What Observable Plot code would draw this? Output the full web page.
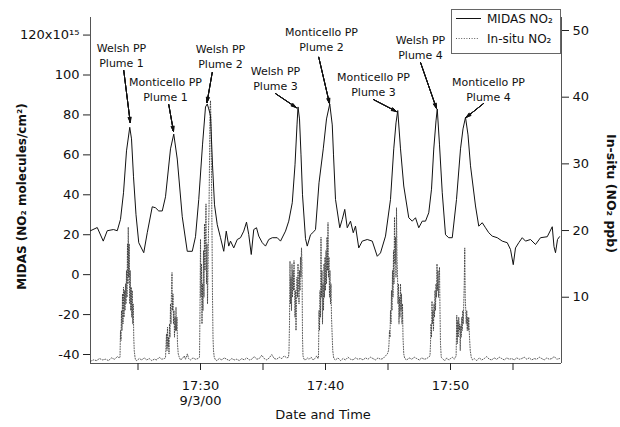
<!DOCTYPE html>
<html><head><meta charset="utf-8">
<script src="https://cdn.jsdelivr.net/npm/d3@7"></script>
<script src="https://cdn.jsdelivr.net/npm/@observablehq/plot@0.6"></script>
<style>
body{margin:0;background:#fff;}
#wrap{position:relative;width:620px;height:427px;font-family:"DejaVu Sans",sans-serif;}
#legend{position:absolute;left:451px;top:9px;width:108px;height:43px;border:1px solid #666;background:#fff;}
</style></head>
<body><div id="wrap"></div>
<script>
// MIDAS NO2 (10^15 molecules/cm^2), time in minutes after 17:00 on 9/3/00
const midasMin = [21.20,21.74,22.22,22.54,23.04,23.34,23.60,23.84,24.08,24.34,24.48,24.64,24.84,25.06,25.46,25.74,26.14,26.40,26.66,26.94,27.20,27.60,27.86,28.14,28.54,28.94,29.34,29.60,29.86,30.16,30.40,30.54,30.66,30.80,30.96,31.12,31.34,31.60,31.86,32.06,32.26,32.40,32.66,32.94,33.20,33.46,33.68,33.86,34.06,34.26,34.48,34.66,34.94,35.20,35.46,35.74,36.14,36.40,36.80,37.06,37.34,37.56,37.72,37.80,37.92,38.04,38.16,38.40,38.54,38.80,39.06,39.20,39.48,39.82,40.08,40.34,40.54,40.64,40.80,41.14,41.34,41.54,41.74,42.00,42.22,42.40,42.66,42.94,43.34,43.74,44.14,44.40,44.80,45.20,45.46,45.64,45.78,46.00,46.26,46.66,46.94,47.20,47.46,47.74,48.00,48.26,48.48,48.66,48.84,48.94,49.12,49.34,49.60,49.86,50.14,50.48,50.80,51.00,51.20,51.40,51.60,52.00,52.26,52.54,52.80,53.06,53.34,53.74,54.14,54.54,54.80,55.02,55.20,55.46,55.74,56.00,56.40,56.80,57.20,57.74,58.14,58.28,58.40,58.56,58.72];
const midasVal = [22,23.6,16.8,22,22.6,22,27.7,41,62,73.8,68,49,30,16,11,21,34,33.5,31.9,31.9,39,63,70.4,57.9,29,11.7,11.7,19,37.7,65,84,85.5,83,79.7,55,35,25,18.5,11.7,21.8,14.3,16.8,13.4,17.6,18.5,21.8,26.3,20.1,10.1,22.6,23.5,19.3,16,14.3,17.6,18.5,18.5,16.8,21.8,26.8,36,55,75,84,78,60,40,18,14.3,20,21.5,22.6,46,63,78,85.5,75,60,37.7,23.5,27.7,32.7,23.5,26.8,21,24.3,13.4,16.8,17.6,16.8,9.2,10.9,19.3,37.7,63,76,82.2,63,44.4,28.5,26.8,28.5,23.5,26.8,26.8,31,42.8,62.9,77,83,65,41,20,18.5,18.5,37.7,63,73,78.8,70,54.5,34.4,24.3,26,23.5,21,19.3,18.5,16.8,16,12.6,5,13.4,16,18.5,16.8,17.6,15.1,18.5,19,24,14,11,17.6,19];

// In-situ NO2 (ppb)
const insituMin = [21.20,21.44,21.68,21.92,22.16,22.40,22.64,22.88,23.12,23.36,23.48,
23.56,23.60,23.64,23.68,23.72,23.76,23.80,23.84,23.88,23.92,23.96,24.00,24.04,24.08,24.12,24.16,24.20,24.22,24.26,24.30,24.34,24.38,24.42,24.46,24.50,24.54,24.58,24.62,24.66,24.70,24.76,24.80,
24.90,25.10,25.30,25.50,25.70,25.90,26.10,26.30,26.50,26.70,26.90,27.10,27.20,
27.28,27.32,27.36,27.40,27.44,27.48,27.52,27.56,27.60,27.64,27.68,27.72,27.76,27.80,27.84,27.88,27.92,27.96,28.00,28.04,28.08,28.12,28.16,28.22,28.30,28.40,
28.55,28.70,28.80,28.95,29.05,29.20,29.40,29.60,29.80,
29.92,29.96,30.00,30.04,30.08,30.12,30.16,30.20,30.24,30.28,30.32,30.36,30.40,30.44,30.48,30.52,30.56,30.60,30.64,30.68,30.72,30.76,30.80,30.84,30.88,30.92,30.96,31.00,31.04,31.10,31.20,
31.30,31.50,31.70,31.90,32.10,32.30,32.50,32.70,32.90,33.10,33.30,33.50,33.70,33.90,34.10,34.30,34.50,34.70,34.90,35.10,35.30,35.50,35.70,35.90,36.10,36.30,36.50,36.70,36.90,37.04,
37.08,37.12,37.16,37.20,37.24,37.28,37.32,37.36,37.40,37.44,37.48,37.52,37.56,37.60,37.64,37.68,37.72,37.76,37.80,37.84,37.88,37.92,37.96,38.00,38.04,38.08,38.12,38.16,38.20,38.28,
38.40,38.55,38.70,38.85,39.00,39.15,39.30,39.40,
39.44,39.48,39.52,39.56,39.60,39.64,39.68,39.72,39.76,39.80,39.84,39.88,39.92,39.96,40.00,40.04,40.08,40.12,40.16,40.20,40.24,40.28,40.32,40.36,40.40,40.44,40.48,40.52,40.58,40.66,
40.80,41.00,41.20,41.40,41.60,41.80,42.00,42.20,42.40,42.60,42.80,43.00,43.20,43.40,43.60,43.80,44.00,44.20,44.40,44.60,44.80,44.95,
45.04,45.08,45.12,45.16,45.20,45.24,45.28,45.32,45.36,45.40,45.44,45.48,45.52,45.56,45.60,45.64,45.68,45.72,45.76,45.80,45.84,45.88,45.92,45.96,46.00,46.04,46.08,46.12,46.16,46.20,46.26,46.34,
46.50,46.70,46.90,47.10,47.30,47.50,47.70,47.90,48.10,48.30,
48.36,48.40,48.44,48.48,48.52,48.56,48.60,48.64,48.68,48.72,48.76,48.80,48.84,48.88,48.92,48.96,49.00,49.04,49.08,49.12,49.16,49.20,49.26,
49.40,49.55,49.70,49.85,50.00,50.15,50.30,50.45,
50.50,50.54,50.58,50.62,50.66,50.70,50.74,50.78,50.82,50.86,50.90,50.94,50.98,51.02,51.06,51.10,51.14,51.18,51.22,51.26,51.30,51.34,51.38,51.42,51.46,51.52,51.58,51.66,51.76,
51.90,52.10,52.30,52.50,52.70,52.90,53.10,53.30,53.50,53.70,53.90,54.10,54.30,54.50,54.70,54.90,55.10,55.30,55.50,55.70,55.90,56.10,56.30,56.50,56.70,56.90,57.10,57.30,57.50,57.70,57.90,58.10,58.30,58.50,58.72];
const insituPpb = [0.4,0.6,0.5,0.8,0.6,0.7,0.5,0.9,0.7,1.1,0.9,
1.0,5,3.5,8,5,10.5,6,11.5,7,11,8,12,9,14,10,18,12,20.5,13,18,9,14,8,11.5,7,11,6,9,4,2,1.0,0.6,
0.5,0.8,0.6,0.9,0.6,0.8,0.5,0.7,0.6,1.0,0.7,0.8,0.9,
4.5,2,5.5,2.5,4,1.5,6,4,9,6,11,13.7,8,10.5,6,8,4,7,5,8.5,5,7,3,1.5,1.0,0.6,
0.8,1.2,0.7,1.5,0.8,0.6,0.9,0.7,0.8,
1.0,8,18.7,10,15,6,12,8,17,10,21,14,19,24,12,18,9,14,20,23,30,38,39.5,36,28,20,10,4,2,1.0,0.6,
0.5,0.8,0.6,0.9,0.7,0.5,0.8,0.6,0.7,0.5,0.8,0.6,0.9,0.6,0.7,1.1,0.7,0.8,1.3,0.8,0.6,0.9,1.4,0.8,0.7,1.0,0.8,1.2,0.9,1.0,
2,6,15.4,9,13,8,15,10,14,11,15.5,12,7,11,5,9,13,10,15,12,9,14,11,16,13,17.4,15,4,1.2,0.7,
0.6,0.9,0.7,1.0,0.6,0.8,1.2,0.8,
1.0,8,5,11,7,19,10,14,6,12,8,15,10,16,11,17,12,19,14,21.2,13,16,10,14,9,12,7,5,2,0.8,
0.6,0.9,0.5,0.8,0.6,1.0,0.7,0.6,0.9,0.7,0.8,0.6,0.9,0.7,1.0,0.8,0.6,0.9,0.7,0.8,1.2,1.5,
2,3,5,4,8,6,11,8,14,10,17,12,22,15,19,13,23.4,16,13.5,9,12,6,10,7,12,8,10.5,6,9,4,1.5,0.8,
0.6,0.9,0.7,1.0,0.8,0.6,0.9,0.7,0.8,1.1,
1.2,3,6,4,9.4,6,8,5,9,7,11,8,12,10,15,11,14,10,13,14.5,8,3,1.0,
0.7,0.5,0.9,0.6,0.8,1.0,0.7,1.2,
7.3,3,6.5,4,7,5,6,2,5.7,4,7,5,8,6,9,12,17.4,10,8,6,8,5,7,5,7,4,2,1.0,0.6,
0.8,0.5,0.9,0.6,0.8,1.1,0.7,0.6,0.9,0.7,1.0,0.8,0.6,0.9,0.7,0.8,0.6,0.9,0.7,0.8,1.0,0.7,0.9,0.6,0.8,0.7,1.0,0.8,0.6,0.9,0.7,0.8,1.1,0.7,0.8];

// Axis ticks
const xTicks = [25,30,35,40,45,50,55];
const xTickLabels = ["","17:30\n9/3/00","","17:40","","17:50",""];
const yTicks = [-40,-20,0,20,40,60,80,100,120];
const yTickLabels = ["-40","-20","0","20","40","60","80","100","120x10\u00B9\u2075"];
const rTicks = [10,20,30,40,50];

// Annotations (label anchor and arrow, in data coordinates: minutes, MIDAS units)
const annLabel = ["Welsh PP\nPlume 1","Monticello PP\nPlume 1","Welsh PP\nPlume 2","Welsh PP\nPlume 3","Monticello PP\nPlume 2","Welsh PP\nPlume 4","Monticello PP\nPlume 3","Monticello PP\nPlume 4"];
const annX = [23.68,27.2,31.6,36.0,39.68,47.6,43.84,53.04];
const annY = [110.0,93.2,109.5,98.5,118.3,114.0,95.7,92.9];
const arrowFromX = [23.86,27.46,30.94,36.0,39.46,47.6,43.84,52.64];
const arrowFromY = [102.3,85.2,101.3,90.7,108.9,106.3,87.7,85.7];
const arrowToX = [24.38,27.84,30.52,37.66,40.32,48.88,45.68,51.24];
const arrowToY = [76.2,71.7,86.2,83.7,85.7,83.2,81.7,78.7];

const L0 = -44.5, L1 = 128.8, R0 = 0.06, R1 = 51.95;
const X0 = 21.2, X1 = 58.88;
const toLeft = r => L0 + (r - R0) * (L1 - L0) / (R1 - R0);
const fromLeft = v => R0 + (v - L0) * (R1 - R0) / (L1 - L0);

const midas = midasMin.map((t, i) => ({t, v: midasVal[i]}));
const insitu = insituMin.map((t, i) => ({t, v: toLeft(insituPpb[i])}));
const ann = annLabel.map((s, i) => ({s, x: annX[i], y: annY[i], x1: arrowFromX[i], y1: arrowFromY[i], x2: arrowToX[i], y2: arrowToY[i]}));

// arrowheads drawn as several barb pairs so that they read as filled wedges
const arrowMarks = [34, 24, 14, 5].map(a =>
  Plot.arrow(ann, {x1: "x1", y1: "y1", x2: "x2", y2: "y2", headLength: 8, headAngle: a, strokeWidth: 1, stroke: "#111"}));

const chart = Plot.plot({
  width: 620, height: 427,
  marginTop: 17, marginBottom: 64, marginLeft: 90, marginRight: 59,
  style: {fontFamily: "DejaVu Sans, sans-serif", fontSize: "13px", color: "#222", background: "white"},
  x: {domain: [X0, X1]},
  y: {domain: [L0, L1]},
  marks: [
    Plot.ruleY([L0], {stroke: "#555"}),
    Plot.ruleX([X0], {stroke: "#555"}),
    Plot.ruleX([X1], {stroke: "#555"}),
    Plot.axisX({ticks: xTicks, tickFormat: d => xTickLabels[xTicks.indexOf(d)], tickSize: 7, tickPadding: 9, label: null, fontSize: 13, lineHeight: 1.15, fill: "#111"}),
    Plot.axisY({ticks: yTicks, tickFormat: d => yTickLabels[yTicks.indexOf(d)], tickSize: 7, tickPadding: 4, label: null, fontSize: 13, fill: "#111"}),
    Plot.axisY({anchor: "right", ticks: rTicks.map(toLeft), tickFormat: d => String(Math.round(fromLeft(d))), tickSize: 7, tickPadding: 4, label: null, fontSize: 13, fill: "#111"}),
    Plot.line(insitu, {x: "t", y: "v", stroke: "#333", strokeWidth: 0.8, strokeDasharray: "1,1.6"}),
    Plot.line(midas, {x: "t", y: "v", stroke: "#111", strokeWidth: 1}),
    ...arrowMarks,
    Plot.text(ann, {x: "x", y: "y", text: "s", fontSize: 11, lineHeight: 1.36, fill: "#111"}),
    Plot.text(["MIDAS (NO\u2082 molecules/cm\u00B2)"], {frameAnchor: "left", textAnchor: "middle", dx: -68, dy: 6, rotate: -90, fontWeight: "bold", fontSize: 12, fill: "#111"}),
    Plot.text(["In-situ (NO\u2082 ppb)"], {frameAnchor: "right", textAnchor: "middle", dx: 49, dy: 3, rotate: 90, fontWeight: "bold", fontSize: 12.5, fill: "#111"}),
    Plot.text(["Date and Time"], {frameAnchor: "bottom", dx: -3, dy: 55, fontSize: 13, fill: "#111"})
  ]
});
const wrap = document.getElementById("wrap");
wrap.appendChild(chart);

// Legend
const legend = document.createElement("div");
legend.id = "legend";
legend.innerHTML = `<svg width="108" height="43" style="display:block">
<line x1="4" x2="29" y1="8.5" y2="8.5" stroke="#111" stroke-width="1"/>
<line x1="4" x2="26" y1="28.5" y2="28.5" stroke="#333" stroke-width="0.8" stroke-dasharray="1,1.6"/>
<text x="35" y="13" font-family="DejaVu Sans, sans-serif" font-size="12" fill="#111">MIDAS NO\u2082</text>
<text x="35" y="33" font-family="DejaVu Sans, sans-serif" font-size="12" fill="#111">In-situ NO\u2082</text>
</svg>`;
wrap.appendChild(legend);
</script>
</body></html>
